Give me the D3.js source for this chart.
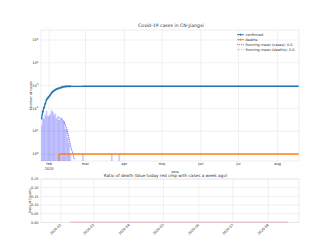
<!DOCTYPE html>
<html>
<head>
<meta charset="utf-8">
<script src="https://cdn.jsdelivr.net/npm/d3@7"></script>
<style>
  body { margin: 0; background: #fff; }
  text { font-family: "DejaVu Sans", sans-serif; fill: #333; }
  .grid line { stroke: #e6e6e6; stroke-width: 0.6; }
</style>
</head>
<body>
<svg id="chart" width="333" height="250"></svg>
<script>
// cumulative confirmed cases (points where the value changes)
const confirmedDates = ["2020-01-26","2020-01-27","2020-01-28","2020-01-29","2020-01-30","2020-01-31",
    "2020-02-01","2020-02-02","2020-02-03","2020-02-04","2020-02-05","2020-02-06","2020-02-07","2020-02-08",
    "2020-02-09","2020-02-10","2020-02-11","2020-02-12","2020-02-13","2020-02-14","2020-02-15","2020-02-16",
    "2020-02-17","2020-02-18","2020-02-27","2020-02-28","2020-03-21","2020-03-22","2020-03-27","2020-03-28",
    "2020-08-18"];
const confirmed = [36, 72, 109, 162, 240, 286, 333, 391, 476, 548, 600, 661, 698, 740,
    771, 804, 844, 872, 900, 913, 925, 930, 933, 934, 934, 935, 935, 936, 936, 937, 937];

// daily new cases (bars)
const newCaseDates = ["2020-01-26","2020-01-27","2020-01-28","2020-01-29","2020-01-30","2020-01-31",
    "2020-02-01","2020-02-02","2020-02-03","2020-02-04","2020-02-05","2020-02-06","2020-02-07","2020-02-08",
    "2020-02-09","2020-02-10","2020-02-11","2020-02-12","2020-02-13","2020-02-14","2020-02-15","2020-02-16",
    "2020-02-17","2020-02-18","2020-02-28","2020-03-22","2020-03-28"];
const newCases = [18, 36, 37, 53, 78, 46, 47, 58, 85, 72, 52, 61, 37, 42,
    31, 33, 40, 28, 28, 13, 12, 5, 3, 1, 1, 1, 1];

// running mean of new cases
const meanDates = ["2020-02-08","2020-02-09","2020-02-10","2020-02-11","2020-02-12","2020-02-13","2020-02-14",
    "2020-02-15","2020-02-16","2020-02-17","2020-02-18","2020-02-19","2020-02-20","2020-02-21"];
const meanCases = [45, 40, 36, 33, 30, 25, 19, 13, 8, 4.5, 2.5, 1.5, 1.1, 0.6];

// deaths
const deathDates = ["2020-02-09", "2020-08-18"];
const deaths = [1, 1];

// ratio of death compared with cases a week ago
const ratioDates = ["2020-02-09", "2020-02-10", "2020-08-18"];
const ratioWeekAgo = [0.0017, 0.0011, 0.0011];

const topMonths = ["2020-02-01","2020-03-01","2020-04-01","2020-05-01","2020-06-01","2020-07-01","2020-08-01"];
const topMonthLabels = ["feb", "mar", "apr", "maj", "jun", "jul", "aug"];
const bottomMonths = ["2020-02-01","2020-03-01","2020-04-01","2020-05-01","2020-06-01","2020-07-01","2020-08-01"];
const decades = [1, 10, 100, 1000, 10000, 100000];
const ratioTicks = [0, 0.05, 0.10, 0.15, 0.20, 0.25];
const legendLabels = ["confirmed", "deaths", "Running mean (cases): 0.0", "Running mean (deaths): 0.0"];

const parse = d3.utcParse("%Y-%m-%d");
const svg = d3.select("#chart");

const topBox = {left: 41, right: 299, top: 30, bottom: 161};
const botBox = {left: 41, right: 299, top: 179, bottom: 222.3};

const x = d3.scaleUtc()
    .domain([new Date(Date.UTC(2020, 0, 25, 14)), new Date(Date.UTC(2020, 7, 18, 6))])
    .range([topBox.left, topBox.right]);
const y = d3.scaleLog()
    .domain([0.493, 275000])
    .range([topBox.bottom, topBox.top]);

svg.append("defs").append("clipPath").attr("id", "clipTop")
    .append("rect")
    .attr("x", topBox.left).attr("y", topBox.top)
    .attr("width", topBox.right - topBox.left).attr("height", topBox.bottom - topBox.top);

// top grid
const gTop = svg.append("g").attr("class", "grid");
topMonths.forEach(m => {
    gTop.append("line")
        .attr("x1", x(parse(m))).attr("x2", x(parse(m)))
        .attr("y1", topBox.top).attr("y2", topBox.bottom);
});
decades.forEach(v => {
    gTop.append("line")
        .attr("x1", topBox.left).attr("x2", topBox.right)
        .attr("y1", y(v)).attr("y2", y(v));
});
svg.append("rect")
    .attr("x", topBox.left).attr("y", topBox.top)
    .attr("width", topBox.right - topBox.left).attr("height", topBox.bottom - topBox.top)
    .attr("fill", "none").attr("stroke", "#e0e0e0").attr("stroke-width", 0.6);

const plot = svg.append("g").attr("clip-path", "url(#clipTop)");

// daily case bars
const dayPx = x(parse("2020-02-02")) - x(parse("2020-02-01"));
newCaseDates.forEach((d, i) => {
    const cx = x(parse(d));
    plot.append("rect")
        .attr("x", cx - dayPx * 0.7)
        .attr("y", y(newCases[i]))
        .attr("width", dayPx * 1.4)
        .attr("height", topBox.bottom - y(newCases[i]))
        .attr("fill", "#0000ff")
        .attr("opacity", 0.2);
});

// death bar
plot.append("rect")
    .attr("x", x(parse(deathDates[0])) - 0.6)
    .attr("y", y(deaths[0]))
    .attr("width", 1.2)
    .attr("height", topBox.bottom - y(deaths[0]))
    .attr("fill", "#ff7f0e");

const line = d3.line().x(d => x(d[0])).y(d => y(d[1]));

// running mean cases
plot.append("path")
    .datum(meanDates.map((d, i) => [parse(d), meanCases[i]]))
    .attr("d", line)
    .attr("fill", "none").attr("stroke", "#2020ff")
    .attr("stroke-width", 0.7).attr("stroke-dasharray", "1.2,0.8");

// confirmed line
const confData = confirmedDates.map((d, i) => [parse(d), confirmed[i]]);
plot.append("path")
    .datum(confData)
    .attr("d", line)
    .attr("fill", "none").attr("stroke", "#1f77b4").attr("stroke-width", 1.3);
// markers on the daily part of the series
confData.slice(0, 24).forEach(d => {
    plot.append("path")
        .attr("d", `M${x(d[0]) - 1.2},${y(d[1])}h2.4M${x(d[0])},${y(d[1]) - 1.2}v2.4`)
        .attr("stroke", "#1f77b4").attr("stroke-width", 0.6);
});

// deaths line
plot.append("path")
    .datum(deathDates.map((d, i) => [parse(d), deaths[i]]))
    .attr("d", line)
    .attr("fill", "none").attr("stroke", "#ff7f0e").attr("stroke-width", 1.5);

// top axes labels
topMonths.forEach((m, i) => {
    svg.append("text")
        .attr("x", x(parse(m))).attr("y", 165)
        .attr("text-anchor", "middle").attr("font-size", 3.6)
        .text(topMonthLabels[i]);
    if (i === 0) {
        svg.append("text")
            .attr("x", x(parse(m))).attr("y", 169.5)
            .attr("text-anchor", "middle").attr("font-size", 3.6)
            .text("2020");
    }
});
decades.forEach(v => {
    const t = svg.append("text")
        .attr("x", 38.5).attr("y", y(v) + 1.2)
        .attr("text-anchor", "end").attr("font-size", 3.6);
    t.append("tspan").text("10");
    t.append("tspan").attr("font-size", 2.6).attr("dy", -1.4).text(Math.round(Math.log10(v)));
});
svg.append("text")
    .attr("transform", `translate(31.8,${(topBox.top + topBox.bottom) / 2}) rotate(-90)`)
    .attr("text-anchor", "middle").attr("font-size", 3.4)
    .text("Number of cases");
svg.append("text")
    .attr("x", 175).attr("y", 173.2)
    .attr("text-anchor", "middle").attr("font-size", 3.4)
    .text("date");
svg.append("text")
    .attr("x", 171).attr("y", 27.4)
    .attr("text-anchor", "middle").attr("font-size", 4.6)
    .text("Covid-19 cases in CN-Jiangxi");

// legend
const legendColors = ["#1f77b4", "#ff7f0e", "#4040ff", "#ff8080"];
legendLabels.forEach((label, i) => {
    const ly = 34.7 + i * 5;
    const g = svg.append("g");
    const ln = g.append("line")
        .attr("x1", 237).attr("x2", 244).attr("y1", ly).attr("y2", ly)
        .attr("stroke", legendColors[i]).attr("stroke-width", i < 2 ? 0.9 : 0.7);
    if (i < 2) {
        g.append("path")
            .attr("d", `M${239.3},${ly}h2.4M${240.5},${ly - 1.2}v2.4`)
            .attr("stroke", legendColors[i]).attr("stroke-width", 0.6);
    } else {
        ln.attr("stroke-dasharray", "1.2,0.8");
    }
    g.append("text")
        .attr("x", 245.5).attr("y", ly + 1.2)
        .attr("font-size", 3.5)
        .text(label);
});

// bottom plot
const x2 = d3.scaleUtc()
    .domain([new Date(Date.UTC(2020, 0, 14, 17)), new Date(Date.UTC(2020, 7, 27, 22))])
    .range([botBox.left, botBox.right]);
const y2 = d3.scaleLinear().domain([0, 0.25]).range([botBox.bottom, botBox.top]);

const gBot = svg.append("g").attr("class", "grid");
bottomMonths.forEach(m => {
    gBot.append("line")
        .attr("x1", x2(parse(m))).attr("x2", x2(parse(m)))
        .attr("y1", botBox.top).attr("y2", botBox.bottom);
});
ratioTicks.forEach(v => {
    gBot.append("line")
        .attr("x1", botBox.left).attr("x2", botBox.right)
        .attr("y1", y2(v)).attr("y2", y2(v));
});
svg.append("rect")
    .attr("x", botBox.left).attr("y", botBox.top)
    .attr("width", botBox.right - botBox.left).attr("height", botBox.bottom - botBox.top)
    .attr("fill", "none").attr("stroke", "#e0e0e0").attr("stroke-width", 0.6);

const line2 = d3.line().x(d => x2(d[0])).y(d => y2(d[1]));
svg.append("path")
    .datum(ratioDates.map((d, i) => [parse(d), ratioWeekAgo[i]]))
    .attr("d", line2)
    .attr("fill", "none").attr("stroke", "#e04060")
    .attr("stroke-opacity", 0.35).attr("stroke-width", 1);

const fmtMonth = d3.utcFormat("%Y-%m");
bottomMonths.forEach(m => {
    const px = x2(parse(m));
    svg.append("text")
        .attr("transform", `translate(${px + 0.8},${botBox.bottom + 2.8}) rotate(-45)`)
        .attr("text-anchor", "end").attr("font-size", 3.4)
        .text(fmtMonth(parse(m)));
});
ratioTicks.forEach(v => {
    svg.append("text")
        .attr("x", 38.5).attr("y", y2(v) + 1.2)
        .attr("text-anchor", "end").attr("font-size", 3.4)
        .text(v.toFixed(2));
});
svg.append("text")
    .attr("transform", `translate(31.2,${(botBox.top + botBox.bottom) / 2}) rotate(-90)`)
    .attr("text-anchor", "middle").attr("font-size", 3.2)
    .text("Ratio of Deaths");
svg.append("text")
    .attr("x", 165.5).attr("y", 177.2)
    .attr("text-anchor", "middle").attr("font-size", 4.2)
    .text("Ratio of death (blue today red cmp with cases a week ago)");
</script>
</body>
</html>
